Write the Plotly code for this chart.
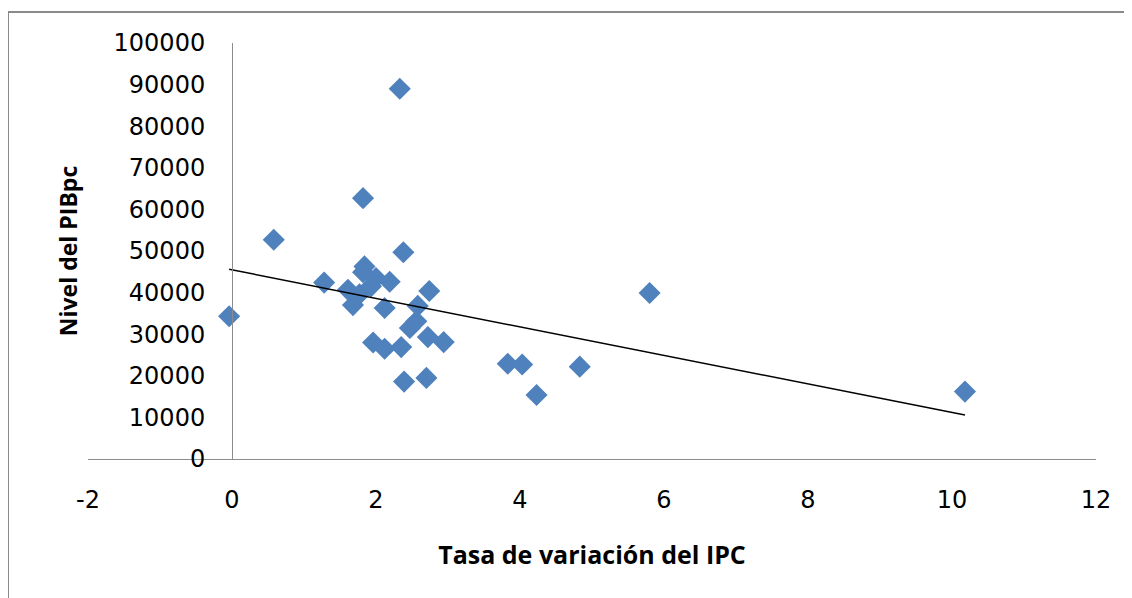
import numpy as np
import plotly.graph_objects as go

# Data
ipc = [-0.04, 0.58, 1.28, 1.61, 1.68, 1.77, 1.82, 1.84, 1.82, 1.93, 2.00, 2.19,
       2.12, 1.96, 2.12, 2.35, 2.33, 2.38, 2.39, 2.47, 2.56, 2.58, 2.70, 2.72,
       2.74, 2.94, 3.83, 4.03, 4.23, 4.83, 5.80, 10.18]
pib = [34300, 52700, 42400, 40700, 37000, 39600, 62700, 46300, 44900, 41500, 43500, 42600,
       36300, 28000, 26500, 26900, 89000, 49700, 18600, 31500, 33100, 36800, 19500, 29300,
       40400, 28100, 22900, 22700, 15400, 22200, 39900, 16200]

x_ticks = [-2, 0, 2, 4, 6, 8, 10, 12]
x_tick_labels = ["-2", "0", "2", "4", "6", "8", "10", "12"]
y_ticks = [0, 10000, 20000, 30000, 40000, 50000, 60000, 70000, 80000, 90000, 100000]
y_tick_labels = ["0", "10000", "20000", "30000", "40000", "50000", "60000",
                 "70000", "80000", "90000", "100000"]
x_title = "Tasa de variación del IPC"
y_title = "Nivel del PIBpc"

# Linear trend line (least squares)
slope, intercept = np.polyfit(ipc, pib, 1)
trend_x = [min(ipc), max(ipc)]
trend_y = [slope * v + intercept for v in trend_x]

# figure is placed inside the page's 8px body margin
W, H = 1124, 590
ml, mr, mt, mb = 80, 36, 35, 139
pw, ph = W - ml - mr, H - mt - mb

fig = go.Figure()
fig.add_trace(go.Scatter(
    x=ipc, y=pib, mode="markers",
    marker=dict(symbol="diamond", size=17, color="#4F81BD", line=dict(width=0)),
    showlegend=False, hoverinfo="x+y"))
fig.add_trace(go.Scatter(
    x=trend_x, y=trend_y, mode="lines",
    line=dict(color="#000000", width=1.5),
    showlegend=False, hoverinfo="skip"))

tick_font = dict(family="DejaVu Sans", size=24, color="#000000")
xtitle_font = dict(family="Open Sans", size=25, color="#000000", weight="bold")
ytitle_font = dict(family="Open Sans", size=23, color="#000000", weight="bold")

x_range = [x_ticks[0], x_ticks[-1]]
y_range = [y_ticks[0], y_ticks[-1]]
ypos = (0 - x_range[0]) / (x_range[1] - x_range[0])

fig.update_layout(
    width=W, height=H,
    margin=dict(l=ml, r=mr, t=mt, b=mb, autoexpand=False),
    paper_bgcolor="white", plot_bgcolor="white",
    xaxis=dict(range=x_range, tickvals=x_ticks, ticktext=x_tick_labels,
               showgrid=False, zeroline=False,
               showline=True, linecolor="#8c8c8c", linewidth=1, ticks="",
               tickfont=tick_font, ticklabelstandoff=19,
               title=dict(text=x_title, font=xtitle_font, standoff=33)),
    yaxis=dict(range=y_range, tickvals=y_ticks, ticktext=y_tick_labels,
               showgrid=False, zeroline=False, anchor="free", position=ypos,
               showline=True, linecolor="#8c8c8c", linewidth=1, ticks="",
               tickfont=tick_font, ticklabelstandoff=22,
               title=dict(text=y_title, font=ytitle_font, standoff=28)),
    shapes=[dict(type="rect", xref="paper", yref="paper",
                 x0=(0 - ml) / pw, x1=(W + 20 - ml) / pw,
                 y0=(ph - (H + 20 - mt)) / ph, y1=(ph - (4 - mt)) / ph,
                 line=dict(color="#8a8a8a", width=2), fillcolor="rgba(0,0,0,0)",
                 layer="below")],
)

fig.write_html("out.html")
